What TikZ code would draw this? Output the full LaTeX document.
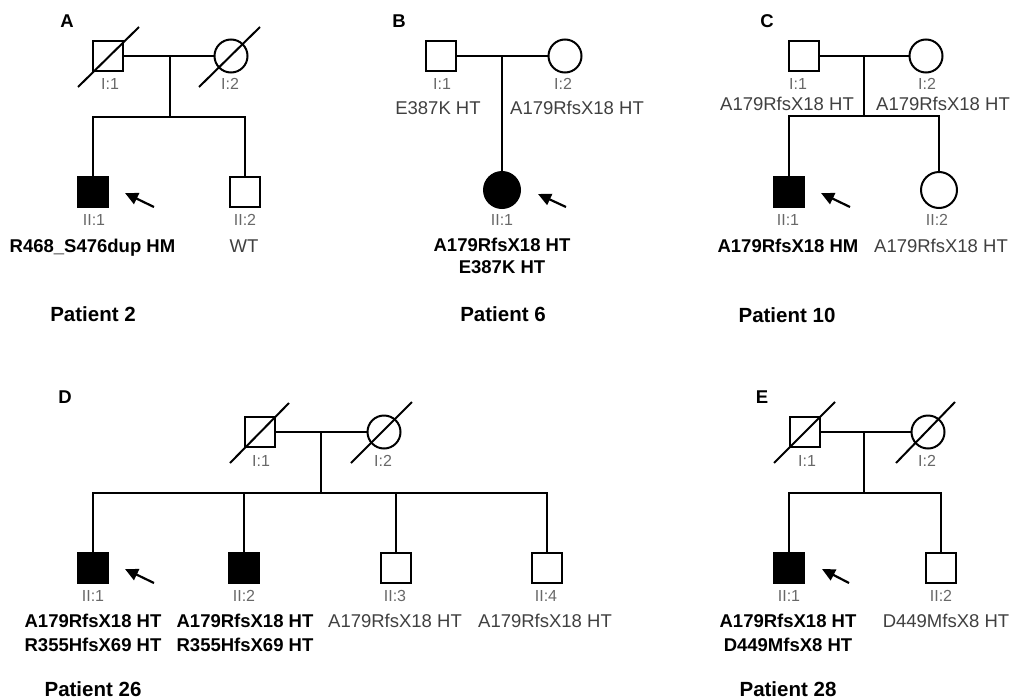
\documentclass[tikz,border=0pt]{standalone}
\usepackage{fontspec}
\setmainfont{Liberation Sans}
\usetikzlibrary{arrows.meta}
\definecolor{gtxt}{HTML}{404040}
\definecolor{lbl}{HTML}{686868}
\begin{document}
\begin{tikzpicture}[x=1pt,y=-1pt,line width=2pt,
  male/.style={draw,rectangle,minimum size=30pt,inner sep=0pt,outer sep=0pt},
  female/.style={draw,circle,minimum size=33pt,inner sep=0pt,outer sep=0pt},
  femaleII/.style={draw,circle,minimum size=36pt,inner sep=0pt,outer sep=0pt},
  aff/.style={fill=black},
  idl/.style={anchor=base,inner sep=0pt,text=lbl,font=\fontsize{16}{18}\selectfont},
  gen/.style={anchor=base,inner sep=0pt,text=gtxt,font=\fontsize{18.5}{21.5}\selectfont,align=center},
  genb/.style={anchor=base,inner sep=0pt,text=black,font=\fontsize{18.5}{24}\selectfont\bfseries,align=center},
  pat/.style={anchor=base,inner sep=0pt,font=\fontsize{20.5}{24}\selectfont\bfseries},
  panel/.style={anchor=base,inner sep=0pt,font=\fontsize{18.5}{21}\selectfont\bfseries},
  proband/.style={-{Triangle[length=13pt,width=12pt]},line width=2.2pt},
  dead/.style={line width=2pt}]
\useasboundingbox (0,0) rectangle (1014,699);

% ---------------- Panel A ----------------
\node[panel] (labA) at (67,27) {A};
\node[male] (a1) at (108,56) {};
\node[female] (a2) at (231,56) {};
\node[male,aff] (a3) at (93,192) {};
\node[male] (a4) at (245,192) {};
\coordinate (am) at (170,56);
\coordinate (as) at (170,117);
\draw (a1.east) -- (a2.west);
\draw (am) -- (as);
\draw (a3.north) |- (as) -| (a4.north);
\draw[dead] ([shift={(-30,31)}]a1.center) -- ([shift={(31,-29)}]a1.center);
\draw[dead] ([shift={(-32,31)}]a2.center) -- ([shift={(29,-29)}]a2.center);
\coordinate (aarr) at (154,207);
\draw[proband] (aarr) -- ([shift={(32,1)}]a3.center);
\node[idl] (a1l) at (110,89) {I:1};
\node[idl] (a2l) at (230,89) {I:2};
\node[idl] (a3l) at (94,225) {II:1};
\node[idl] (a4l) at (245,225) {II:2};
\node[genb] (a3g) at (92.5,252) {R468\_S476dup HM};
\node[gen] (a4g) at (244,252) {WT};
\node[pat] (pA) at (93,321) {Patient 2};

% ---------------- Panel B ----------------
\node[panel] (labB) at (399,27) {B};
\node[male] (b1) at (441,56) {};
\node[female] (b2) at (565,56) {};
\node[femaleII,aff] (b3) at (502,190) {};
\coordinate (bm) at (502,56);
\draw (b1.east) -- (b2.west);
\draw (bm) -- (b3.north);
\coordinate (barr) at (566,207);
\draw[proband] (barr) -- ([shift={(36,4)}]b3.center);
\node[idl] (b1l) at (442,89) {I:1};
\node[idl] (b2l) at (563,89) {I:2};
\node[gen] (b1g) at (438,114) {E387K HT};
\node[gen] (b2g) at (577,114) {A179RfsX18 HT};
\node[idl] (b3l) at (502,225) {II:1};
\node[genb,font=\fontsize{18.5}{21.5}\selectfont\bfseries] (b3g) at (502,273) {A179RfsX18 HT\\E387K HT};
\node[pat] (pB) at (503,321) {Patient 6};

% ---------------- Panel C ----------------
\node[panel] (labC) at (767,27) {C};
\node[male] (c1) at (804,56) {};
\node[female] (c2) at (926,56) {};
\node[male,aff] (c3) at (789,192) {};
\node[femaleII] (c4) at (939,190) {};
\coordinate (cm) at (864,56);
\coordinate (cs) at (864,116);
\draw (c1.east) -- (c2.west);
\draw (cm) -- (cs);
\draw (c3.north) |- (cs) -| (c4.north);
\coordinate (carr) at (850,207);
\draw[proband] (carr) -- ([shift={(32,1)}]c3.center);
\node[idl] (c1l) at (798,89) {I:1};
\node[idl] (c2l) at (927,89) {I:2};
\node[gen] (c1g) at (787,110) {A179RfsX18 HT};
\node[gen] (c2g) at (943,110) {A179RfsX18 HT};
\node[idl] (c3l) at (788,225) {II:1};
\node[idl] (c4l) at (937,225) {II:2};
\node[genb] (c3g) at (788,252) {A179RfsX18 HM};
\node[gen] (c4g) at (941,252) {A179RfsX18 HT};
\node[pat] (pC) at (787,322) {Patient 10};

% ---------------- Panel D ----------------
\node[panel] (labD) at (65,403) {D};
\node[male] (d1) at (260,432) {};
\node[female] (d2) at (384,432) {};
\node[male,aff] (d3) at (93,568) {};
\node[male,aff] (d4) at (244,568) {};
\node[male] (d5) at (396,568) {};
\node[male] (d6) at (547,568) {};
\coordinate (dm) at (321,432);
\coordinate (ds) at (321,493);
\draw (d1.east) -- (d2.west);
\draw (dm) -- (ds);
\draw (d3.north) |- (ds) -| (d6.north);
\draw (d4.north) -- (d4.north |- ds);
\draw (d5.north) -- (d5.north |- ds);
\draw[dead] ([shift={(-30,31)}]d1.center) -- ([shift={(29,-29)}]d1.center);
\draw[dead] ([shift={(-33,31)}]d2.center) -- ([shift={(28,-30)}]d2.center);
\coordinate (darr) at (154,583);
\draw[proband] (darr) -- ([shift={(32,1)}]d3.center);
\node[idl] (d1l) at (261,466) {I:1};
\node[idl] (d2l) at (383,466) {I:2};
\node[idl] (d3l) at (93,601) {II:1};
\node[idl] (d4l) at (244,601) {II:2};
\node[idl] (d5l) at (395,601) {II:3};
\node[idl] (d6l) at (546,601) {II:4};
\node[genb] (d3g) at (93,651) {A179RfsX18 HT\\R355HfsX69 HT};
\node[genb] (d4g) at (245,651) {A179RfsX18 HT\\R355HfsX69 HT};
\node[gen] (d5g) at (395,627) {A179RfsX18 HT};
\node[gen] (d6g) at (545,627) {A179RfsX18 HT};
\node[pat] (pD) at (93,696) {Patient 26};

% ---------------- Panel E ----------------
\node[panel] (labE) at (762,403) {E};
\node[male] (e1) at (805,432) {};
\node[female] (e2) at (928,432) {};
\node[male,aff] (e3) at (789,568) {};
\node[male] (e4) at (941,568) {};
\coordinate (em) at (864,432);
\coordinate (es) at (864,493);
\draw (e1.east) -- (e2.west);
\draw (em) -- (es);
\draw (e3.north) |- (es) -| (e4.north);
\draw[dead] ([shift={(-31,31)}]e1.center) -- ([shift={(30,-30)}]e1.center);
\draw[dead] ([shift={(-32,31)}]e2.center) -- ([shift={(27,-30)}]e2.center);
\coordinate (earr) at (849,583);
\draw[proband] (earr) -- ([shift={(33,1)}]e3.center);
\node[idl] (e1l) at (807,466) {I:1};
\node[idl] (e2l) at (927,466) {I:2};
\node[idl] (e3l) at (789,601) {II:1};
\node[idl] (e4l) at (941,601) {II:2};
\node[genb] (e3g) at (788,651) {A179RfsX18 HT\\D449MfsX8 HT};
\node[gen] (e4g) at (946,627) {D449MfsX8 HT};
\node[pat] (pE) at (788,696) {Patient 28};
\end{tikzpicture}
\end{document}
